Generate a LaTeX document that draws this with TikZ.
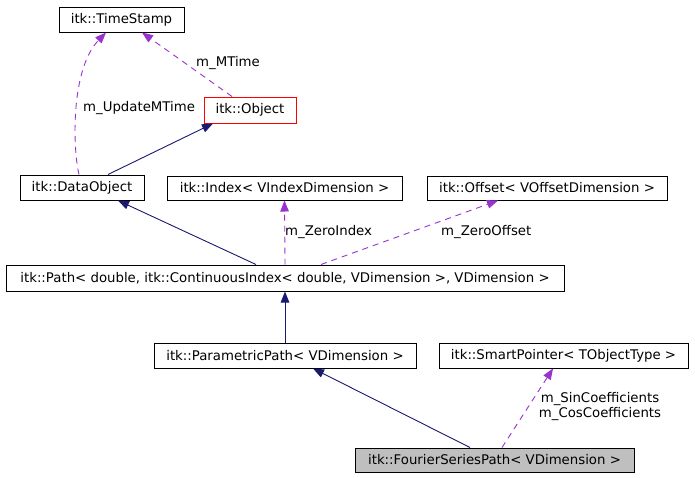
\documentclass[tikz,border=0pt]{standalone}
\usepackage{fontspec}
\setmainfont{DejaVu Sans}
\usetikzlibrary{arrows.meta}
\definecolor{edgeblue}{HTML}{191970}
\definecolor{edgepurple}{HTML}{9A32CD}
\definecolor{boxgray}{HTML}{BFBFBF}
\begin{document}
\begin{tikzpicture}[x=1pt,y=-1pt,
  every node/.style={font=\fontsize{13.3}{15}\selectfont, inner sep=0pt},
  cls/.style={draw=black, line width=1pt, minimum height=25pt, fill=white},
  inherit/.style={draw=edgeblue, line width=0.9pt, -{Triangle[length=11pt,width=8.5pt]}},
  uses/.style={draw=edgepurple, line width=0.9pt, dash pattern=on 6pt off 5pt, -{Triangle[length=11pt,width=8.5pt]}},
  lbl/.style={anchor=west}]
\useasboundingbox (0,0) rectangle (695,477);
\fill[white] (0,0) rectangle (695,477);

\node[cls, minimum width=125pt] (ts) at (121.5,19.5) {itk::TimeStamp};
\node[cls, draw=red, minimum width=92pt, minimum height=26pt] (obj) at (250,110) {itk::Object};
\node[cls, minimum width=124pt] (dobj) at (82,187.5) {itk::DataObject};
\node[cls, minimum width=235pt, minimum height=24pt] (idx) at (284.5,188) {itk::Index< VIndexDimension >};
\node[cls, minimum width=240pt, minimum height=24pt] (off) at (547,188) {itk::Offset< VOffsetDimension >};
\node[cls, minimum width=558pt, minimum height=26pt] (path) at (285,278) {itk::Path< double, itk::ContinuousIndex< double, VDimension >, VDimension >};
\node[cls, minimum width=262pt] (ppath) at (285,355.5) {itk::ParametricPath< VDimension >};
\node[cls, minimum width=249pt] (sp) at (563.5,355.5) {itk::SmartPointer< TObjectType >};
\node[cls, fill=boxgray, minimum width=279pt, minimum height=24pt] (fsp) at (494.5,460) {itk::FourierSeriesPath< VDimension >};

% edges
\draw[uses] ([xshift=-18pt]obj.north) -- ([xshift=20.5pt]ts.south);
\draw[uses] ([xshift=-3pt]dobj.north) .. controls (73,150) and (70,70) .. ([xshift=-15.5pt]ts.south);
\draw[inherit] ([xshift=26pt]dobj.north) -- ([xshift=-37pt]obj.south);
\draw[inherit] ([xshift=-29pt]path.north) -- ([xshift=36pt]dobj.south);
\draw[uses] (path.north) -- (idx.south);
\draw[uses] ([xshift=36pt]path.north) -- ([xshift=-49pt]off.south);
\draw[inherit] (ppath.north) -- (path.south);
\draw[inherit] ([xshift=-24.5pt]fsp.north) -- ([xshift=28pt]ppath.south);
\draw[uses] ([xshift=7.5pt]fsp.north) -- ([xshift=-10.5pt]sp.south);

% labels
\node[lbl] (l1) at (196,63) {m\_MTime};
\node[lbl] (l2) at (83,108) {m\_UpdateMTime};
\node[lbl] (l3) at (285,232) {m\_ZeroIndex};
\node[lbl] (l4) at (441,232) {m\_ZeroOffset};
\node[align=center] (l5) at (600,407) {m\_SinCoefficients\\m\_CosCoefficients};
\end{tikzpicture}
\end{document}
